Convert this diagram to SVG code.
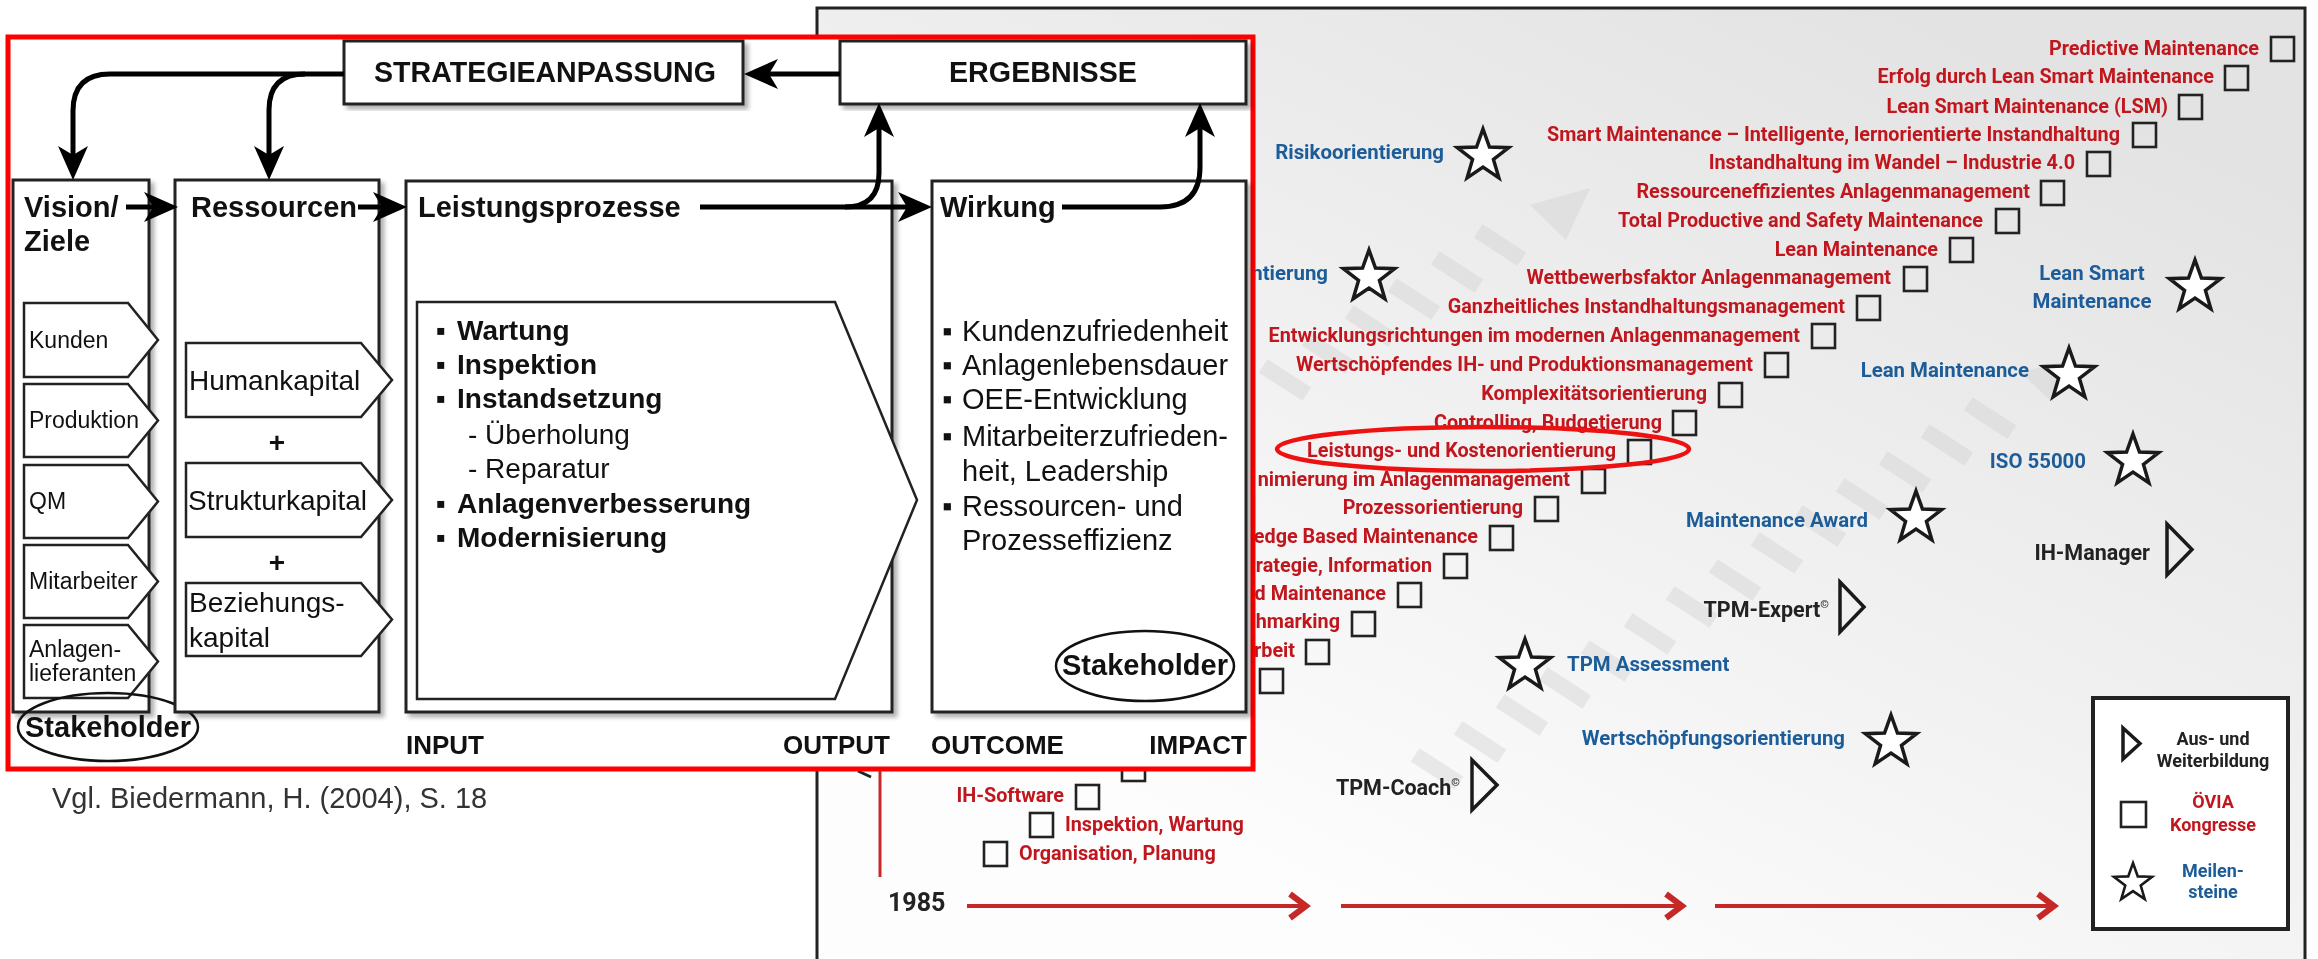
<svg xmlns="http://www.w3.org/2000/svg" width="2318" height="959" viewBox="0 0 2318 959">
<defs>
  <linearGradient id="panelBg" gradientUnits="userSpaceOnUse" x1="1900" y1="0" x2="1450" y2="959">
    <stop offset="0" stop-color="#e3e3e3"/>
    <stop offset="0.55" stop-color="#f1f1f1"/>
    <stop offset="1" stop-color="#fdfdfd"/>
  </linearGradient>
  <filter id="shadow" x="-5%" y="-5%" width="115%" height="115%">
    <feDropShadow dx="4" dy="4" stdDeviation="2" flood-color="#000" flood-opacity="0.3"/>
  </filter>
  <marker id="arrow" markerUnits="userSpaceOnUse" viewBox="0 0 34 30" markerWidth="34" markerHeight="30" refX="9" refY="15" orient="auto">
    <path d="M0,0 L34,15 L0,30 L9,15 Z" fill="#000"/>
  </marker>
  <path id="star" d="M0,-27 L6.47,-8.9 L25.68,-8.34 L10.46,3.4 L15.87,21.84 L0,11 L-15.87,21.84 L-10.46,3.4 L-25.68,-8.34 L-6.47,-8.9 Z"/>
  <rect id="dash" x="-26" y="-8" width="52" height="16" transform="rotate(33)"/>
  <style>
    .box{fill:#fff;stroke:#222;stroke-width:3}
    .pent{fill:#fff;stroke:#222;stroke-width:2.5}
    .h{font-family:"Liberation Sans",Arial,sans-serif;font-weight:bold;font-size:29px;fill:#111}
    .t{font-family:"Liberation Sans",Arial,sans-serif;font-size:23px;fill:#111}
    .m{font-family:"Liberation Sans",Arial,sans-serif;font-size:28px;fill:#111}
    .lb{font-family:"Liberation Sans",Arial,sans-serif;font-weight:bold;font-size:28px;fill:#111}
    .lr{font-family:"Liberation Sans",Arial,sans-serif;font-size:28px;fill:#111}
    .w{font-family:"Liberation Sans",Arial,sans-serif;font-size:29px;fill:#111}
    .io{font-family:"Liberation Sans",Arial,sans-serif;font-weight:bold;font-size:26px;fill:#111}
    .conn{fill:none;stroke:#000;stroke-width:5;marker-end:url(#arrow)}
    .r{font-family:Roboto,"Liberation Sans",sans-serif;font-weight:bold;font-size:19.8px;fill:#c0161d;text-anchor:end}
    .rs{font-family:Roboto,"Liberation Sans",sans-serif;font-weight:bold;font-size:19.8px;fill:#c0161d}
    .b{font-family:Roboto,"Liberation Sans",sans-serif;font-weight:bold;font-size:20.4px;fill:#1c5c98;text-anchor:end}
    .k{font-family:Roboto,"Liberation Sans",sans-serif;font-weight:bold;font-size:21.5px;fill:#222;text-anchor:end}
    .lg{font-family:Roboto,"Liberation Sans",sans-serif;font-weight:bold;font-size:18px;text-anchor:middle}
    .sq{fill:none;stroke:#222;stroke-width:2.6}
    .star{fill:#fff;stroke:#1a1a1a;stroke-width:3.5}
    .tri{fill:none;stroke:#1a1a1a;stroke-width:3.5;stroke-linejoin:miter}
    .dash{fill:#cfcfcf;opacity:0.4}
    .tl{fill:none;stroke:#c62828;stroke-width:4}
    .tlh{fill:none;stroke:#c62828;stroke-width:6}
  </style>
</defs>

<rect width="2318" height="959" fill="#fff"/>

<!-- timeline panel: background and frame -->
<g id="timeline-panel">
  <rect x="817" y="8" width="1488" height="975" fill="url(#panelBg)" stroke="#222" stroke-width="3"/>
  <g class="dash">
    <use href="#dash" x="1990" y="418"/><use href="#dash" x="1947" y="445"/><use href="#dash" x="1905" y="472"/>
    <use href="#dash" x="1862" y="499"/><use href="#dash" x="1820" y="526"/><use href="#dash" x="1777" y="553"/>
    <use href="#dash" x="1735" y="580"/><use href="#dash" x="1692" y="607"/><use href="#dash" x="1650" y="634"/>
    <use href="#dash" x="1607" y="661"/><use href="#dash" x="1565" y="688"/><use href="#dash" x="1522" y="715"/>
    <use href="#dash" x="1480" y="742"/><use href="#dash" x="1437" y="769"/>
    <use href="#dash" x="1500" y="245"/><use href="#dash" x="1457" y="272"/><use href="#dash" x="1414" y="299"/>
    <use href="#dash" x="1371" y="326"/><use href="#dash" x="1328" y="353"/><use href="#dash" x="1285" y="380"/>
    <path d="M1530,205 L1590,188 L1566,240 Z"/>
    <path d="M2020,372 L2072,360 L2052,402 Z"/>
  </g>
</g>

<!-- congress list (squares) -->
<g id="congresses">
  <text class="r" x="2259" y="55">Predictive Maintenance</text><rect class="sq" x="2271" y="37" width="23" height="24"/>
  <text class="r" x="2214" y="83">Erfolg durch Lean Smart Maintenance</text><rect class="sq" x="2225" y="66" width="23" height="24"/>
  <text class="r" x="2168" y="113">Lean Smart Maintenance (LSM)</text><rect class="sq" x="2179" y="95" width="23" height="24"/>
  <text class="r" x="2120" y="141">Smart Maintenance – Intelligente, lernorientierte Instandhaltung</text><rect class="sq" x="2133" y="123" width="23" height="24"/>
  <text class="r" x="2075" y="169">Instandhaltung im Wandel – Industrie 4.0</text><rect class="sq" x="2087" y="152" width="23" height="24"/>
  <text class="r" x="2030" y="198">Ressourceneffizientes Anlagenmanagement</text><rect class="sq" x="2041" y="181" width="23" height="24"/>
  <text class="r" x="1983" y="227">Total Productive and Safety Maintenance</text><rect class="sq" x="1996" y="209" width="23" height="24"/>
  <text class="r" x="1938" y="256">Lean Maintenance</text><rect class="sq" x="1950" y="238" width="23" height="24"/>
  <text class="r" x="1891" y="284">Wettbewerbsfaktor Anlagenmanagement</text><rect class="sq" x="1904" y="267" width="23" height="24"/>
  <text class="r" x="1845" y="313">Ganzheitliches Instandhaltungsmanagement</text><rect class="sq" x="1857" y="296" width="23" height="24"/>
  <text class="r" x="1800" y="342">Entwicklungsrichtungen im modernen Anlagenmanagement</text><rect class="sq" x="1812" y="324" width="23" height="24"/>
  <text class="r" x="1753" y="371">Wertschöpfendes IH- und Produktionsmanagement</text><rect class="sq" x="1765" y="353" width="23" height="24"/>
  <text class="r" x="1707" y="400">Komplexitätsorientierung</text><rect class="sq" x="1719" y="383" width="23" height="24"/>
  <text class="r" x="1662" y="429">Controlling, Budgetierung</text><rect class="sq" x="1673" y="411" width="23" height="24"/>
  <text class="r" x="1616" y="457">Leistungs- und Kostenorientierung</text><rect class="sq" x="1628" y="440" width="23" height="24"/>
  <text class="r" x="1570" y="486">nimierung im Anlagenmanagement</text><rect class="sq" x="1582" y="469" width="23" height="24"/>
  <text class="r" x="1523" y="514">Prozessorientierung</text><rect class="sq" x="1535" y="497" width="23" height="24"/>
  <text class="r" x="1478" y="543">edge Based Maintenance</text><rect class="sq" x="1490" y="526" width="23" height="24"/>
  <text class="r" x="1432" y="572">rategie, Information</text><rect class="sq" x="1444" y="554" width="23" height="24"/>
  <text class="r" x="1386" y="600">d Maintenance</text><rect class="sq" x="1398" y="583" width="23" height="24"/>
  <text class="r" x="1340" y="628">hmarking</text><rect class="sq" x="1352" y="612" width="23" height="24"/>
  <text class="r" x="1295" y="657">rbeit</text><rect class="sq" x="1306" y="640" width="23" height="24"/>
  <rect class="sq" x="1260" y="669" width="23" height="24"/>
  <rect class="sq" x="1122" y="757" width="23" height="24"/>
  <text class="r" x="1064" y="802">IH-Software</text><rect class="sq" x="1076" y="785" width="23" height="24"/>
  <rect class="sq" x="1030" y="813" width="23" height="24"/><text class="rs" x="1065" y="831">Inspektion, Wartung</text>
  <rect class="sq" x="984" y="842" width="23" height="24"/><text class="rs" x="1019" y="860">Organisation, Planung</text>
  <ellipse cx="1483" cy="449" rx="206" ry="22" fill="none" stroke="#ee1111" stroke-width="4.5"/>
</g>

<!-- milestones (stars) -->
<g id="milestones">
  <text class="b" x="1444" y="159">Risikoorientierung</text><use href="#star" class="star" x="1483" y="156"/>
  <text class="b" x="1328" y="280">ntierung</text><use href="#star" class="star" x="1369" y="277"/>
  <text class="b" x="2092" y="280" style="text-anchor:middle">Lean Smart</text>
  <text class="b" x="2092" y="308" style="text-anchor:middle">Maintenance</text><use href="#star" class="star" x="2195" y="287"/>
  <text class="b" x="2029" y="377">Lean Maintenance</text><use href="#star" class="star" x="2069" y="375"/>
  <text class="b" x="2086" y="468">ISO 55000</text><use href="#star" class="star" x="2133" y="461"/>
  <text class="b" x="1868" y="527">Maintenance Award</text><use href="#star" class="star" x="1916" y="518"/>
  <use href="#star" class="star" x="1525" y="666"/><text class="b" x="1567" y="671" style="text-anchor:start">TPM Assessment</text>
  <text class="b" x="1845" y="745">Wertschöpfungsorientierung</text><use href="#star" class="star" x="1891" y="742"/>
</g>

<!-- training (triangles) -->
<g id="training">
  <text class="k" x="2150" y="560">IH-Manager</text><path class="tri" d="M2167,524 L2192,549.5 L2167,575 Z"/>
  <text class="k" x="1829" y="617">TPM-Expert<tspan font-size="11" dy="-9">©</tspan></text><path class="tri" d="M1840,582 L1864,607 L1840,632 Z"/>
  <text class="k" x="1460" y="795">TPM-Coach<tspan font-size="11" dy="-9">©</tspan></text><path class="tri" d="M1472,760 L1497,785 L1472,810 Z"/>
  <path d="M858,771 L871,777" stroke="#222" stroke-width="3"/>
</g>

<!-- time axis -->
<g id="time-axis">
  <line x1="880" y1="769" x2="880" y2="877" stroke="#c62828" stroke-width="3"/>
  <text x="888" y="911" font-family="Roboto,'Liberation Sans',sans-serif" font-weight="bold" font-size="25" fill="#222">1985</text>
  <line class="tl" x1="967" y1="906" x2="1306" y2="906"/><polyline class="tlh" points="1290,894 1306,906 1290,918"/>
  <line class="tl" x1="1341" y1="906" x2="1682" y2="906"/><polyline class="tlh" points="1666,894 1682,906 1666,918"/>
  <line class="tl" x1="1715" y1="906" x2="2054" y2="906"/><polyline class="tlh" points="2038,894 2054,906 2038,918"/>
</g>

<!-- legend -->
<g id="legend">
  <rect x="2093" y="698" width="195" height="231" fill="#fff" stroke="#222" stroke-width="4"/>
  <path class="tri" d="M2123,728 L2140,743.5 L2123,759 Z"/>
  <text class="lg" x="2213" y="745" fill="#222">Aus- und</text>
  <text class="lg" x="2213" y="767" fill="#222">Weiterbildung</text>
  <rect class="sq" x="2121" y="802" width="25" height="25"/>
  <text class="lg" x="2213" y="808" fill="#c0161d">ÖVIA</text>
  <text class="lg" x="2213" y="831" fill="#c0161d">Kongresse</text>
  <use href="#star" class="star" transform="translate(2133,883) scale(0.74)"/>
  <text class="lg" x="2213" y="877" fill="#1c5c98">Meilen-</text>
  <text class="lg" x="2213" y="898" fill="#1c5c98">steine</text>
</g>

<!-- management model panel -->
<g id="model-frame">
  <rect x="8" y="37" width="1245" height="732" fill="#fff" stroke="#ff0000" stroke-width="5"/>
</g>

<g id="strategieanpassung">
  <rect class="box" x="344" y="41" width="399" height="63" filter="url(#shadow)"/>
  <text class="h" x="545" y="82" text-anchor="middle" font-size="26" textLength="342" lengthAdjust="spacingAndGlyphs">STRATEGIEANPASSUNG</text>
</g>
<g id="ergebnisse">
  <rect class="box" x="840" y="41" width="406" height="63" filter="url(#shadow)"/>
  <text class="h" x="1043" y="82" text-anchor="middle" font-size="26" textLength="188" lengthAdjust="spacingAndGlyphs">ERGEBNISSE</text>
</g>

<g id="vision">
  <rect class="box" x="13" y="180" width="136" height="532" filter="url(#shadow)"/>
  <text class="h" x="24" y="217">Vision/</text>
  <text class="h" x="24" y="251">Ziele</text>
  <path class="pent" d="M24,303 H128 L158,340 L128,377 H24 Z"/>
  <path class="pent" d="M24,384 H128 L158,420.5 L128,457 H24 Z"/>
  <path class="pent" d="M24,465 H128 L158,501.5 L128,538 H24 Z"/>
  <path class="pent" d="M24,545 H128 L158,581.5 L128,618 H24 Z"/>
  <path class="pent" d="M24,625 H128 L158,661.5 L128,698 H24 Z"/>
  <text class="t" x="29" y="348">Kunden</text>
  <text class="t" x="29" y="428">Produktion</text>
  <text class="t" x="29" y="509">QM</text>
  <text class="t" x="29" y="589">Mitarbeiter</text>
  <text class="t" x="29" y="657">Anlagen-</text>
  <text class="t" x="29" y="681">lieferanten</text>
  <ellipse cx="108" cy="727" rx="90" ry="34" fill="none" stroke="#111" stroke-width="2.5"/>
  <text class="h" x="108" y="737" text-anchor="middle">Stakeholder</text>
</g>

<g id="ressourcen">
  <rect class="box" x="175" y="180" width="204" height="532" filter="url(#shadow)"/>
  <text class="h" x="191" y="217">Ressourcen</text>
  <path class="pent" d="M186,343 H361 L392,380 L361,417 H186 Z"/>
  <path class="pent" d="M186,463 H361 L392,500 L361,537 H186 Z"/>
  <path class="pent" d="M186,583 H361 L392,619.5 L361,656 H186 Z"/>
  <text class="m" x="189" y="390">Humankapital</text>
  <text class="m" x="277" y="452" text-anchor="middle" font-weight="bold">+</text>
  <text class="m" x="188" y="510">Strukturkapital</text>
  <text class="m" x="277" y="572" text-anchor="middle" font-weight="bold">+</text>
  <text class="m" x="189" y="612">Beziehungs-</text>
  <text class="m" x="189" y="647">kapital</text>
</g>

<g id="leistungsprozesse">
  <rect class="box" x="406" y="181" width="486" height="531" filter="url(#shadow)"/>
  <text class="h" x="418" y="217">Leistungsprozesse</text>
  <path class="pent" d="M417,302 H835 L917,500 L835,699 H417 Z" stroke-width="2"/>
  <text class="lb"><tspan x="436" y="340">▪</tspan><tspan x="457">Wartung</tspan></text>
  <text class="lb"><tspan x="436" y="374">▪</tspan><tspan x="457">Inspektion</tspan></text>
  <text class="lb"><tspan x="436" y="408">▪</tspan><tspan x="457">Instandsetzung</tspan></text>
  <text class="lr" x="468" y="444">- Überholung</text>
  <text class="lr" x="468" y="478">- Reparatur</text>
  <text class="lb"><tspan x="436" y="513">▪</tspan><tspan x="457">Anlagenverbesserung</tspan></text>
  <text class="lb"><tspan x="436" y="547">▪</tspan><tspan x="457">Modernisierung</tspan></text>
</g>

<g id="wirkung">
  <rect class="box" x="932" y="181" width="314" height="531" filter="url(#shadow)"/>
  <text class="h" x="940" y="217">Wirkung</text>
  <text class="w"><tspan x="942" y="341">▪</tspan><tspan x="962">Kundenzufriedenheit</tspan></text>
  <text class="w"><tspan x="942" y="375">▪</tspan><tspan x="962">Anlagenlebensdauer</tspan></text>
  <text class="w"><tspan x="942" y="409">▪</tspan><tspan x="962">OEE-Entwicklung</tspan></text>
  <text class="w"><tspan x="942" y="446">▪</tspan><tspan x="962">Mitarbeiterzufrieden-</tspan></text>
  <text class="w" x="962" y="481">heit, Leadership</text>
  <text class="w"><tspan x="942" y="516">▪</tspan><tspan x="962">Ressourcen- und</tspan></text>
  <text class="w" x="962" y="550">Prozesseffizienz</text>
  <ellipse cx="1145" cy="666" rx="89" ry="35" fill="none" stroke="#111" stroke-width="2.5"/>
  <text class="h" x="1145" y="675" text-anchor="middle">Stakeholder</text>
</g>

<g id="phase-labels">
  <text class="io" x="406" y="754">INPUT</text>
  <text class="io" x="890" y="754" text-anchor="end">OUTPUT</text>
  <text class="io" x="931" y="754">OUTCOME</text>
  <text class="io" x="1247" y="754" text-anchor="end">IMPACT</text>
</g>

<g id="connectors">
  <path class="conn" d="M840,74 L769,74"/>
  <path class="conn" d="M344,74 L110,74 Q73,74 73,111 L73,155"/>
  <path class="conn" d="M305,74 Q269,74 269,110 L269,155"/>
  <path class="conn" d="M126,207 L153,207"/>
  <path class="conn" d="M358,207 L382,207"/>
  <path class="conn" d="M700,207 L907,207"/>
  <path class="conn" d="M845,207 Q879,207 879,173 L879,128"/>
  <path class="conn" d="M1062,207 L1160,207 Q1200,207 1200,167 L1200,128"/>
</g>

<text x="52" y="808" font-family="'Liberation Sans',Arial,sans-serif" font-size="29" fill="#333">Vgl. Biedermann, H. (2004), S. 18</text>
</svg>
